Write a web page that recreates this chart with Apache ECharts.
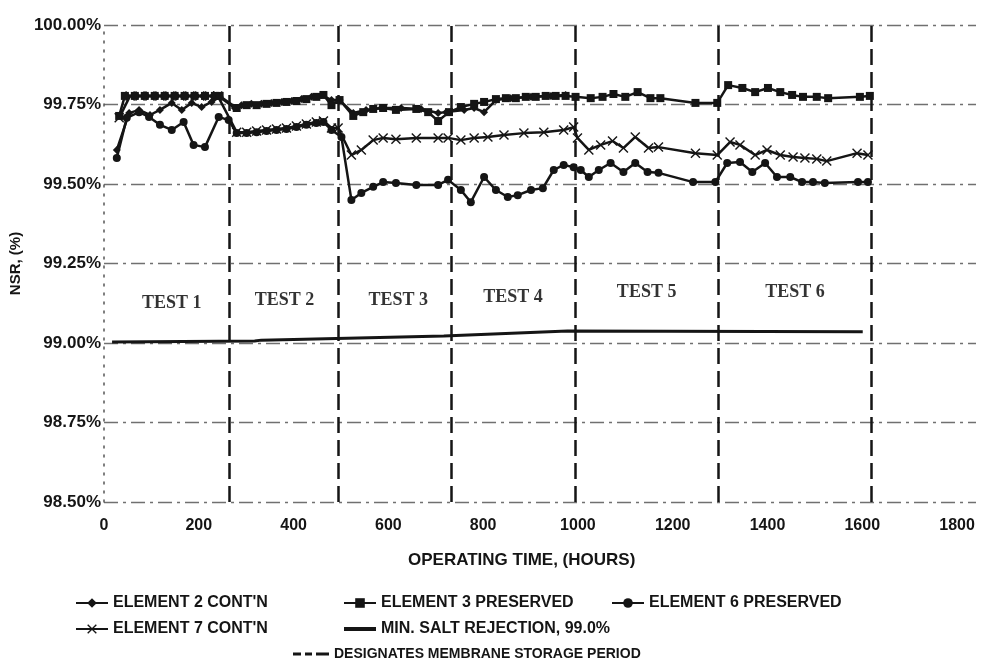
<!DOCTYPE html>
<html>
<head>
<meta charset="utf-8">
<script src="https://cdn.jsdelivr.net/npm/echarts@6/dist/echarts.min.js"></script>
<style>
  html, body { margin: 0; padding: 0; background: #fff; }
  #main { width: 981px; height: 666px; }
</style>
</head>
<body>
<div id="main"></div>
<script>
// operating hours / NSR (%)
var e3Hours = [32,44,65,86,107,128,149,170,191,213,234,244,
  280,301,322,343,364,385,406,427,448,463,480,497,
  526,547,568,589,616,659,684,705,728,753,781,802,
  827,848,869,890,911,932,953,974,995,
  1027,1052,1075,1100,1126,1153,1174,1248,1294,
  1317,1347,1374,1401,1427,1452,1475,1504,1528,1595,1616];
var e3Nsr = [99.714,99.777,99.777,99.777,99.777,99.777,99.777,99.777,99.777,99.777,99.777,99.777,
  99.739,99.748,99.748,99.752,99.755,99.758,99.761,99.767,99.774,99.780,99.748,99.764,
  99.714,99.726,99.736,99.739,99.733,99.736,99.726,99.698,99.726,99.742,99.752,99.758,
  99.767,99.770,99.770,99.774,99.774,99.777,99.777,99.777,99.774,
  99.770,99.774,99.783,99.774,99.789,99.770,99.770,99.755,99.755,
  99.811,99.802,99.789,99.802,99.789,99.780,99.774,99.774,99.770,99.774,99.777];

var e7Hours = [32,55,76,97,118,139,160,181,202,223,240,
  280,301,322,343,364,385,406,427,448,463,480,494,
  522,543,568,589,616,659,705,726,753,781,810,844,886,928,970,991,
  999,1023,1048,1073,1096,1121,1149,1170,1248,1294,
  1321,1342,1374,1399,1427,1454,1479,1504,1525,1589,1612];
var e7Nsr = [99.708,99.777,99.777,99.777,99.777,99.777,99.777,99.777,99.777,99.777,99.777,
  99.663,99.663,99.667,99.670,99.673,99.676,99.682,99.689,99.695,99.698,99.676,99.676,
  99.591,99.607,99.638,99.645,99.641,99.645,99.645,99.645,99.638,99.645,99.648,99.654,99.660,99.663,99.670,99.679,
  99.645,99.607,99.623,99.635,99.613,99.648,99.613,99.616,99.597,99.591,
  99.632,99.623,99.591,99.607,99.591,99.585,99.582,99.579,99.572,99.597,99.591];

var e6Hours = [27,48,74,95,118,143,168,189,213,242,263,
  280,301,322,343,364,385,406,427,448,463,480,501,
  522,543,568,589,616,659,705,726,753,774,802,827,852,873,901,926,949,970,991,
  1006,1023,1044,1069,1096,1121,1147,1170,1243,1290,
  1315,1342,1368,1395,1420,1448,1473,1496,1521,1591,1612];
var e6Nsr = [99.582,99.708,99.726,99.711,99.686,99.670,99.695,99.623,99.616,99.711,99.701,
  99.660,99.660,99.663,99.667,99.670,99.673,99.679,99.686,99.692,99.695,99.670,99.648,
  99.450,99.472,99.491,99.506,99.503,99.497,99.497,99.513,99.481,99.443,99.522,99.481,99.459,99.465,99.481,99.487,99.544,99.560,99.553,
  99.544,99.522,99.544,99.566,99.538,99.566,99.538,99.535,99.506,99.506,
  99.566,99.569,99.538,99.566,99.522,99.522,99.506,99.506,99.503,99.506,99.506];

var e2Hours = [27,53,74,97,118,143,164,185,206,227,244,
  276,290,311,332,353,375,396,417,438,459,480,497,
  526,553,585,627,669,705,722,760,781,802,827,858,901,943,974];
var e2Nsr = [99.607,99.723,99.733,99.717,99.733,99.755,99.733,99.755,99.742,99.758,99.774,
  99.739,99.748,99.752,99.752,99.755,99.758,99.761,99.767,99.774,99.780,99.764,99.764,
  99.723,99.733,99.739,99.739,99.736,99.723,99.726,99.733,99.739,99.726,99.764,99.770,99.774,99.777,99.780];

var minHours = [17,318,332,717,978,1601];
var minNsr = [99.003,99.006,99.009,99.022,99.038,99.035];

// storage periods between tests (hours)
var storageHours = [265,494,732,995,1296,1618];

var testNames = ['TEST 1','TEST 2','TEST 3','TEST 4','TEST 5','TEST 6'];
var testHours = [143,381,621,863,1145,1458];
var testNsr = [99.126,99.135,99.135,99.145,99.16,99.16];

function zip(h, v) {
  return h.map(function (x, i) { return [x, v[i]]; });
}

var INK = '#151515';
var FONT = "'Liberation Sans', Arial, sans-serif";
var xMark = 'path://M0,1 L1,0 L5,4 L9,0 L10,1 L6,5 L10,9 L9,10 L5,6 L1,10 L0,9 L4,5 Z';
var solidIcon = 'path://M0,0 L32,0 L32,4 L0,4 Z';
var dashIcon = 'path://M0,0 L8,0 L8,3 L0,3 Z M12,0 L19,0 L19,3 L12,3 Z M23,0 L36,0 L36,3 L23,3 Z';

var chart = echarts.init(document.getElementById('main'));

function lineSeries(name, data, symbol, size) {
  return {
    name: name,
    type: 'line',
    data: data,
    symbol: symbol,
    symbolSize: size,
    showSymbol: true,
    lineStyle: { color: INK, width: 2.5 },
    itemStyle: { color: INK },
    z: 3
  };
}

var legendText = { color: INK, fontFamily: FONT, fontWeight: 'bold', fontSize: 16, lineHeight: 16 };

var option = {
  backgroundColor: '#fff',
  animation: false,
  grid: { left: 102, right: 5, top: 25, bottom: 164 },
  title: {
    text: 'OPERATING TIME, (HOURS)',
    left: 403,
    top: 547,
    textStyle: { color: INK, fontFamily: FONT, fontWeight: 'bold', fontSize: 17 }
  },
  legend: [
    {
      orient: 'vertical', left: 70, top: 590, itemGap: 10, itemWidth: 32, itemHeight: 12,
      data: ["ELEMENT 2 CONT'N", "ELEMENT 7 CONT'N"], textStyle: legendText
    },
    {
      orient: 'vertical', left: 338, top: 590, itemGap: 10, itemWidth: 32, itemHeight: 12,
      data: ['ELEMENT 3 PRESERVED', { name: 'MIN. SALT REJECTION, 99.0%', icon: solidIcon }],
      textStyle: legendText
    },
    {
      orient: 'vertical', left: 606, top: 590, itemWidth: 32, itemHeight: 12,
      data: ['ELEMENT 6 PRESERVED'], textStyle: legendText
    },
    {
      orient: 'vertical', left: 288, top: 642, itemWidth: 36, itemHeight: 12,
      data: [{ name: 'DESIGNATES MEMBRANE STORAGE PERIOD', icon: dashIcon }],
      textStyle: { color: INK, fontFamily: FONT, fontWeight: 'bold', fontSize: 14, lineHeight: 14 }
    }
  ],
  xAxis: {
    type: 'value',
    min: 0,
    max: 1840,
    interval: 200,
    axisLine: { show: false },
    axisTick: { show: false },
    splitLine: { show: false },
    axisLabel: {
      margin: 16,
      color: INK,
      fontFamily: FONT,
      fontWeight: 'bold',
      fontSize: 16,
      formatter: function (v) { return v % 200 === 0 && v <= 1800 ? String(v) : ''; }
    }
  },
  yAxis: {
    type: 'value',
    min: 98.5,
    max: 100,
    interval: 0.25,
    name: 'NSR, (%)',
    nameLocation: 'middle',
    nameRotate: 90,
    nameGap: 80,
    nameTextStyle: { color: INK, fontFamily: FONT, fontWeight: 'bold', fontSize: 15 },
    axisLine: { show: true, lineStyle: { color: '#555', width: 1.5, type: [2, 7] } },
    axisTick: { show: false },
    axisLabel: {
      margin: 3,
      color: INK,
      fontFamily: FONT,
      fontWeight: 'bold',
      fontSize: 17,
      formatter: function (v) { return v.toFixed(2) + '%'; }
    },
    splitLine: {
      show: true,
      lineStyle: { color: '#333', width: 1.3, opacity: 0.7, type: [14, 5, 3, 5] }
    }
  },
  series: [
    lineSeries("ELEMENT 2 CONT'N", zip(e2Hours, e2Nsr), 'diamond', 8),
    lineSeries('ELEMENT 3 PRESERVED', zip(e3Hours, e3Nsr), 'rect', 8),
    lineSeries('ELEMENT 6 PRESERVED', zip(e6Hours, e6Nsr), 'circle', 8),
    lineSeries("ELEMENT 7 CONT'N", zip(e7Hours, e7Nsr), xMark, 10),
    {
      name: 'MIN. SALT REJECTION, 99.0%',
      type: 'line',
      data: zip(minHours, minNsr),
      symbol: 'none',
      lineStyle: { color: INK, width: 3 },
      itemStyle: { color: INK },
      z: 2
    },
    {
      name: 'DESIGNATES MEMBRANE STORAGE PERIOD',
      type: 'line',
      data: [],
      symbol: 'none',
      lineStyle: { color: INK, width: 2.5, type: [9, 5] },
      itemStyle: { color: INK },
      markLine: {
        silent: true,
        symbol: ['none', 'none'],
        label: { show: false },
        lineStyle: { color: INK, width: 2.5, type: [16, 7] },
        data: storageHours.map(function (h) { return { xAxis: h }; })
      }
    },
    {
      name: 'tests',
      type: 'scatter',
      symbolSize: 0,
      data: testNames.map(function (n, i) { return { name: n, value: [testHours[i], testNsr[i]] }; }),
      label: {
        show: true,
        position: 'inside',
        formatter: '{b}',
        color: '#000',
        fontFamily: "'Liberation Serif', 'Times New Roman', serif",
        fontWeight: 'bold',
        fontSize: 18
      },
      silent: true
    }
  ]
};

chart.setOption(option);
</script>
</body>
</html>
